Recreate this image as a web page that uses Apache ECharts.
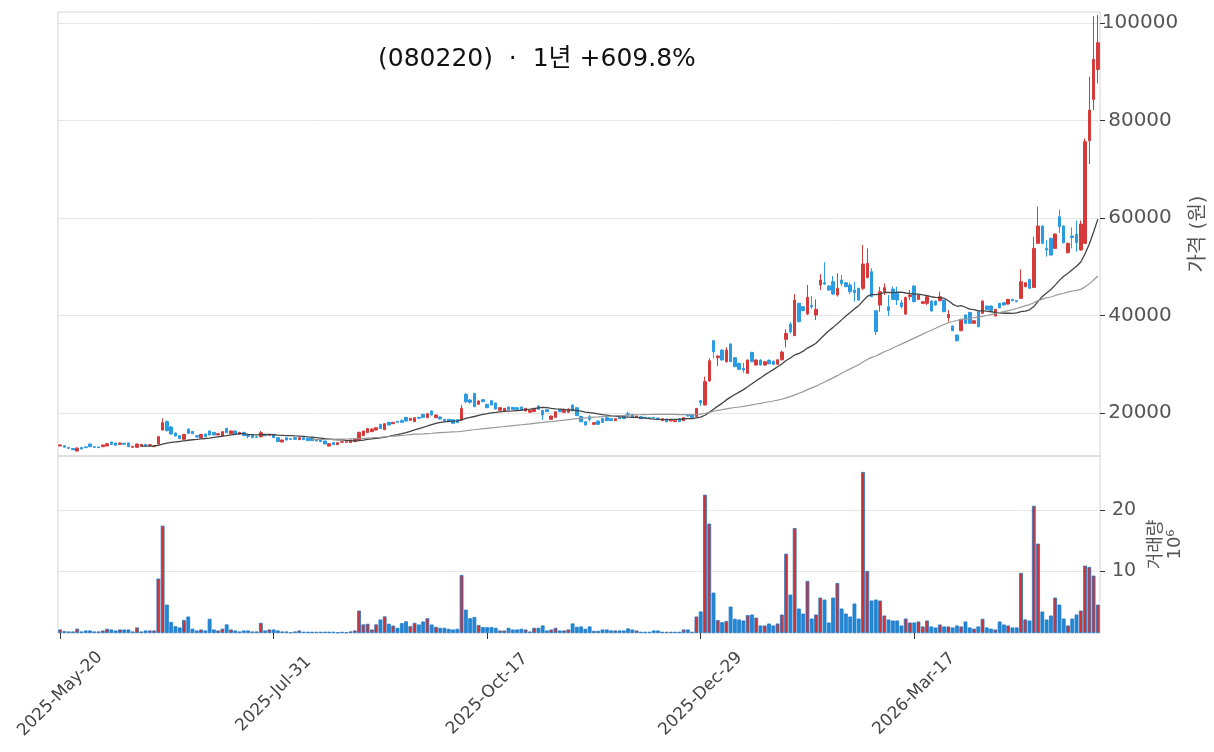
<!DOCTYPE html>
<html>
<head>
<meta charset="utf-8">
<script src="https://cdn.jsdelivr.net/npm/echarts@6/dist/echarts.min.js"></script>
<style>
  html, body { margin: 0; padding: 0; background: #fff; }
  #chart { width: 1214px; height: 752px; }
</style>
</head>
<body>
<div id="chart"></div>
<script>
// 일봉 [open, close, low, high]
const candles = [
  [13250,13450,13150,13550],[13300,13000,12950,13350],[12950,12750,12700,13000],[12700,12450,12400,12750],
  [12200,12800,12150,13000],[12900,12600,12550,12950],[13050,12900,12850,13100],[13640,13090,13000,13700],
  [13100,12960,12900,13150],[13030,12890,12850,13100],[13090,13440,13050,13500],[13230,13710,13200,13800],
  [14050,13570,13500,14100],[13850,13370,13300,13900],[13570,13850,13500,13900],[13780,13570,13500,13850],
  [13850,13090,13000,13900],[12960,13160,12900,13250],[12960,13640,12900,13700],[13160,13570,13100,13650],
  [13570,13300,13250,13600],[13370,13510,13300,13600],[13090,13230,13050,13300],[13640,15150,13500,15300],
  [16510,18020,16400,18910],[18220,16380,16200,18500],[17130,15690,15600,17300],[15900,15280,15200,16000],
  [15350,14740,14650,15450],[14600,15620,14550,15700],[16650,15830,15750,16900],[16240,15760,15700,16300],
  [15350,15080,15000,15450],[14940,15620,14900,15700],[15690,15140,15100,15750],[16310,15490,15450,16400],
  [16040,15490,15450,16100],[15490,15760,15450,15850],[15280,16170,15250,16250],[16850,15970,15900,16950],
  [15760,16310,15700,16400],[16310,15690,15650,16400],[15620,16040,15550,16100],[16040,15350,15300,16100],
  [15490,15210,14800,15550],[15620,14940,14900,15700],[15140,15010,14950,15200],[15150,15970,14940,16300],
  [15560,15350,15300,15650],[15420,15560,15350,15650],[15620,14940,14900,15700],[14940,14120,14050,15000],
  [14050,14460,14000,14550],[14940,14460,14400,15000],[14740,14600,14550,14800],[14940,14600,14550,15000],
  [14530,14940,14500,15000],[14940,14530,14450,15000],[14800,14330,14300,14850],[14940,14330,14300,15000],
  [14600,14260,14200,14650],[14530,14120,14050,14600],[14260,13640,13600,14300],[13230,13710,13150,13750],
  [13920,13500,13450,13950],[13500,13920,13450,14000],[13980,14120,13950,14150],[13990,14120,13950,14150],
  [13920,14460,13900,14500],[14120,14670,14100,14750],[14390,16040,14350,16150],[15350,16310,15300,16400],
  [15970,16790,15900,16900],[16170,16720,16100,16800],[16510,16990,16450,17100],[17680,16790,16700,17750],
  [16580,17810,16500,17900],[18090,17540,17450,18150],[17810,18090,17750,18150],[18290,18090,18050,18350],
  [18430,18090,18000,18700],[19110,18360,18300,19200],[18500,18910,18450,18950],[18220,19040,18150,19100],
  [19110,18910,18850,19200],[19730,19110,19050,19800],[19040,19860,19000,20000],[20410,19590,19500,20500],
  [19040,19590,19000,19650],[19180,18770,18700,19250],[18700,18360,18300,18750],[18700,18220,18150,18750],
  [18630,17880,17800,18700],[18630,18020,17950,18700],[18560,20960,18360,21640],[23830,22320,22000,24100],
  [22670,22190,21900,22900],[24030,21300,21200,24100],[21780,22460,21700,22600],[22730,22320,22250,22800],
  [21780,21090,21000,21850],[22530,21640,21550,22600],[22050,20820,20750,22100],[20550,21090,20500,21150],
  [20410,20960,20350,21000],[21230,20680,20600,21300],[21160,20750,20700,21200],[21090,20750,20700,21150],
  [21230,20680,20600,21300],[20410,20960,20350,21000],[20140,20550,20100,20600],[20270,20960,20200,21050],
  [21440,20750,20700,21500],[20550,19590,18560,20600],[20680,20270,20200,20750],[18700,19380,18650,19450],
  [19110,20270,19050,20350],[20750,20270,20200,20800],[20140,20750,20100,20800],[20140,20820,20100,20900],
  [21640,20410,20350,21700],[21090,19450,19400,21150],[19300,18200,18150,19400],[18220,17540,17450,18300],
  [19250,18700,18300,19600],[17670,18020,17600,18100],[18360,17670,17600,18400],[18910,18080,18000,18950],
  [19040,18430,18350,19100],[18840,18430,18350,18900],[18430,18840,18400,18900],[19040,18840,18800,19100],
  [19310,18840,18800,19350],[19860,19660,19250,20250],[19720,19110,19050,19800],[19110,19380,19050,19450],
  [19250,18840,18800,19300],[19110,18970,18900,19150],[19040,18910,18850,19100],[19110,18970,18900,19150],
  [18970,18840,18800,19000],[18430,18840,18400,18900],[18770,18220,18150,18800],[18360,18500,18300,18550],
  [18220,18430,18150,18450],[18840,18220,18150,18900],[18430,19040,18400,19100],[19520,19380,19300,19600],
  [19590,19110,19050,19650],[19250,20960,19200,21000],[22530,22120,21430,22600],[21640,26430,21600,27450],
  [26560,30730,26400,31210],[34830,32580,31210,34970],[31350,31690,29640,31800],[32920,30870,30800,33000],
  [30530,32920,30320,33470],[34150,30530,30450,34300],[31350,29500,29400,31450],[30190,28950,28850,30300],
  [29160,28820,28270,30320],[28140,30870,28050,31000],[32440,30530,30450,32550],[29840,30870,29750,31000],
  [30870,29840,29750,31000],[29840,30500,29700,30700],[30800,30100,30000,31000],[30600,30000,29900,30800],
  [30000,30900,29900,31100],[30900,32500,30800,32800],[35110,36340,33470,37160],[38250,36680,36300,38600],
  [35860,43180,35800,44400],[42490,38730,38600,42600],[41810,40990,40900,41900],[40300,43720,40100,46250],
  [42080,41810,41400,43990],[40100,41260,39070,43310],[46250,47280,45230,48510],[46730,46460,46250,50900],
  [46050,45230,45100,46200],[46940,44410,44200,48100],[44200,45570,43860,48650],[47280,46590,46100,48300],
  [46730,45910,45800,46900],[46250,44890,44400,46730],[45230,44680,42830,46940],[45570,43170,43100,45700],
  [45570,50560,45200,54460],[47820,50700,47600,53770],[48990,43860,43800,49670],[40990,36680,36000,41100],
  [42150,44890,40780,45910],[44890,45710,44200,46590],[41810,40990,39890,44200],[45430,43310,43170,45910],
  [44540,43180,42150,45910],[42630,41810,41470,43170],[40300,43720,40100,43860],[43860,44200,43170,45230],
  [46050,42830,42700,46200],[43310,44200,43200,44300],[42490,42830,42400,42900],[42490,43860,42150,44200],
  [42970,40920,40800,43100],[42970,42150,42000,43100],[43030,43860,42900,44880],[43170,40780,40700,43300],
  [39550,40230,38730,41120],[37840,36880,36800,37950],[35990,34830,34700,36100],[36880,39210,36800,39300],
  [40100,38390,38300,40200],[40640,38390,38300,40750],[38390,38930,38300,39000],[40780,37700,37600,40900],
  [40440,42970,40350,43050],[41940,41260,41150,42050],[41940,40980,40900,42050],[39890,41260,39800,41350],
  [42490,41600,41500,42600],[42630,42150,42050,42750],[42350,43310,42250,43400],[43310,43040,42950,43400],
  [43040,42830,42750,43100],[43520,46930,43400,49460],[45910,46730,45800,46850],[47410,45570,45450,47500],
  [45770,53770,45600,56160],[54800,58350,54700,62320],[58350,54800,54700,58500],[53770,53430,52060,55480],
  [55820,52400,52300,55950],[53770,56710,53650,56850],[60270,58210,56930,61770],[58350,54930,54800,58500],
  [52880,54800,52750,54950],[56300,56020,53770,58080],[56710,54930,53090,59450],[53430,58760,53300,59500],
  [54800,75650,54700,76330],[75850,82140,71070,88980],[84330,92540,82140,101420],[90490,95950,87610,101630]
]

// 거래량 (백만주)
const volumes = [
  0.57,0.3,0.25,0.25,0.7,0.25,0.41,0.41,0.25,0.25,0.41,0.68,0.57,0.41,0.57,0.57,0.57,0.25,0.9,0.25,
  0.41,0.41,0.41,8.85,17.46,4.62,1.8,1.1,0.9,2.1,2.68,0.7,0.41,0.57,0.41,2.3,0.57,0.41,0.7,1.4,
  0.57,0.41,0.25,0.41,0.41,0.25,0.25,1.65,0.41,0.57,0.57,0.41,0.25,0.25,0.1,0.25,0.41,0.2,0.2,0.2,
  0.2,0.2,0.2,0.2,0.2,0.1,0.2,0.1,0.25,0.41,3.65,1.4,1.5,0.57,1.4,2.2,2.7,1.5,1.2,0.84,
  1.6,1.9,1.1,1.65,1.38,1.87,2.4,1.38,1.0,0.84,0.84,0.68,0.57,0.68,9.44,3.8,2.4,2.6,1.3,0.95,
  0.95,0.95,0.84,0.41,0.41,0.84,0.57,0.57,0.68,0.57,0.25,0.84,0.84,1.22,0.41,0.57,0.84,0.41,0.41,0.57,
  1.55,1.0,1.06,0.68,1.06,0.35,0.35,0.57,0.57,0.41,0.41,0.41,0.41,0.75,0.57,0.41,0.2,0.2,0.2,0.41,
  0.41,0.2,0.2,0.2,0.2,0.2,0.57,0.57,0.2,2.68,3.5,22.5,17.8,6.57,2.1,1.75,1.95,4.3,2.3,2.19,
  2.03,2.9,3.0,2.5,1.22,1.22,1.54,1.22,1.54,3.0,12.9,6.25,17.08,3.98,3.16,8.47,2.35,3.0,5.76,5.44,
  1.7,5.76,8.14,3.98,3.16,2.68,4.79,2.35,26.2,10.09,5.28,5.44,5.28,2.84,2.19,2.03,2.03,1.22,2.35,1.7,
  1.7,1.87,1.06,2.03,1.06,0.9,1.38,1.06,1.06,0.9,1.22,1.06,1.87,0.9,0.7,1.06,2.3,0.9,0.7,0.57,
  1.87,1.38,1.22,0.9,0.9,9.77,2.2,2.03,20.7,14.54,3.49,2.19,2.84,5.76,4.62,2.35,1.22,2.35,3.0,3.65,
  10.96,10.74,9.33,4.62
]

const tickIdx = [0, 50, 100, 150, 200]
const tickLabels = ['2025-May-20', '2025-Jul-31', '2025-Oct-17', '2025-Dec-29', '2026-Mar-17']
const priceTicks = [20000, 40000, 60000, 80000, 100000]
const volTicks = [10, 20]

const UP = '#d63b3b', DOWN = '#2b9be3'
const FONT = '"DejaVu Sans", "Noto Sans CJK KR", sans-serif'

function movingAvg(n) {
  return candles.map((_, i) => {
    if (i < n - 1) return null
    let s = 0
    for (let k = i - n + 1; k <= i; k++) s += candles[k][1]
    return +(s / n).toFixed(1)
  })
}

const cats = candles.map((_, i) => i)
const showTick = (idx) => tickIdx.indexOf(idx) >= 0

var myChart = echarts.init(document.getElementById('chart'))
myChart.setOption({
  animation: false,
  textStyle: { fontFamily: FONT },
  title: {
    text: '(080220)  ·  1년 +609.8%',
    left: 373, top: 42,
    textStyle: { fontSize: 25, fontWeight: 'normal', color: '#111', fontFamily: FONT }
  },
  grid: [
    { left: 58, right: 114, top: 12, height: 444, show: true, borderColor: '#d4d4d4', borderWidth: 1, outerBoundsMode: 'none' },
    { left: 58, right: 114, top: 456, height: 177, show: true, borderColor: '#d4d4d4', borderWidth: 1, outerBoundsMode: 'none' }
  ],
  xAxis: [
    { type: 'category', gridIndex: 0, data: cats, boundaryGap: true,
      axisLine: { show: false }, axisTick: { show: false }, axisLabel: { show: false }, splitLine: { show: false } },
    { type: 'category', gridIndex: 1, data: cats, boundaryGap: true,
      axisLine: { show: false },
      axisTick: { show: true, alignWithLabel: true, interval: showTick, length: 6, lineStyle: { color: '#333' } },
      axisLabel: { interval: showTick, rotate: 45, fontSize: 17, color: '#444', margin: 61,
        align: 'center', verticalAlign: 'middle',
        formatter: (v, idx) => tickLabels[tickIdx.indexOf(idx)] || '' },
      splitLine: { show: false } }
  ],
  yAxis: [
    { type: 'value', gridIndex: 0, position: 'right', min: 11180, max: 102260,
      axisLine: { show: false },
      axisTick: { show: true, customValues: priceTicks, length: 5, lineStyle: { color: '#333' } },
      axisLabel: { customValues: priceTicks, fontSize: 20, color: '#555', align: 'center', margin: 40,
        formatter: v => String(v) },
      splitLine: { show: true, lineStyle: { color: '#e6e6e6' } },
      name: '가격 (원)', nameLocation: 'middle', nameRotate: 90, nameGap: 82,
      nameTextStyle: { fontSize: 20, color: '#555' } },
    { type: 'value', gridIndex: 1, position: 'right', min: 0, max: 28.8,
      axisLine: { show: false },
      axisTick: { show: true, customValues: volTicks, length: 5, lineStyle: { color: '#333' } },
      axisLabel: { customValues: volTicks, fontSize: 19, color: '#555', align: 'center', margin: 24,
        formatter: v => String(v) },
      splitLine: { show: true, lineStyle: { color: '#e6e6e6' } },
      name: '거래량\n10⁶', nameLocation: 'middle', nameRotate: 90, nameGap: 39,
      nameTextStyle: { fontSize: 18, color: '#555', lineHeight: 19 } }
  ],
  series: [
    { type: 'candlestick', xAxisIndex: 0, yAxisIndex: 0, data: candles, barWidth: 3,
      itemStyle: { color: UP, color0: DOWN, borderColor: UP, borderColor0: DOWN, borderWidth: 1 } },
    { type: 'line', xAxisIndex: 0, yAxisIndex: 0, data: movingAvg(20), showSymbol: false,
      lineStyle: { color: '#444', width: 1.3 }, z: 3 },
    { type: 'line', xAxisIndex: 0, yAxisIndex: 0, data: movingAvg(60), showSymbol: false,
      lineStyle: { color: '#999', width: 1.2 }, z: 3 },
    { type: 'bar', xAxisIndex: 1, yAxisIndex: 1, barWidth: '88%',
      data: volumes.map((v, i) => ({
        value: v,
        itemStyle: { color: candles[i][1] >= candles[i][0] ? '#cf3434' : '#1f88d6' }
      })),
      itemStyle: { borderColor: '#1f78c8', borderWidth: 0.8 } }
  ]
})
</script>
</body>
</html>
